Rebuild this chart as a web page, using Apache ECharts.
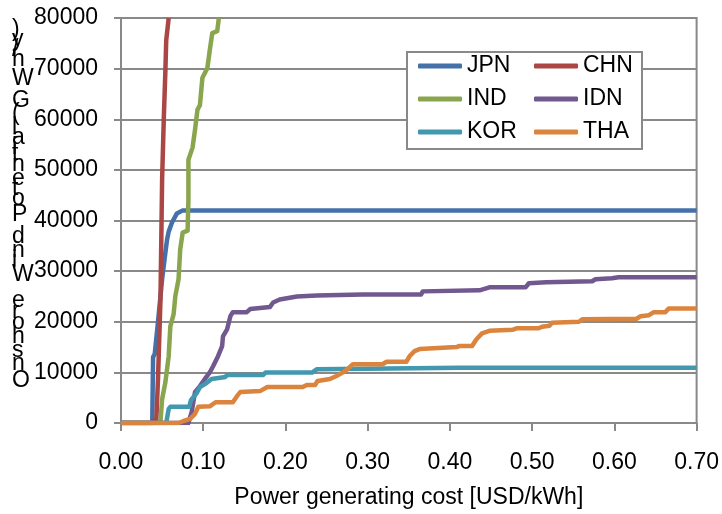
<!DOCTYPE html>
<html>
<head>
<meta charset="utf-8">
<script src="https://cdn.jsdelivr.net/npm/echarts@6/dist/echarts.min.js"></script>
<style>
html,body{margin:0;padding:0;background:#fff;}
#chart{width:722px;height:514px;}
</style>
</head>
<body>
<div id="chart"></div>
<script>
// ---- data (x: USD/kWh, y: GWh/y) ----
const seriesNames = ['JPN', 'CHN', 'IND', 'IDN', 'KOR', 'THA'];
const seriesColors = ['#4471AA', '#AA4643', '#89A54E', '#71588F', '#4198AF', '#DB843D'];

const jpn = [[0,0],[0.038,0],[0.039,13000],[0.041,13600],[0.045,20000],[0.050,28400],[0.054,33700],[0.056,36200],[0.058,37800],[0.062,39600],[0.068,41400],[0.075,42000],[0.70,42000]];
const chn = [[0,0],[0.036,0],[0.043,800],[0.045,8700],[0.048,24400],[0.049,36200],[0.050,48100],[0.052,59900],[0.054,69700],[0.055,75600],[0.058,80000]];
const ind = [[0,0],[0.045,0],[0.048,300],[0.050,4700],[0.054,8100],[0.058,13200],[0.060,19100],[0.064,21500],[0.066,25000],[0.070,28400],[0.072,34300],[0.075,37600],[0.081,38000],[0.082,44100],[0.082,52000],[0.087,54400],[0.090,57900],[0.093,61900],[0.096,62800],[0.099,68200],[0.105,70100],[0.108,73700],[0.111,77000],[0.117,77400],[0.119,80000]];
const idn = [[0,0],[0.082,0],[0.086,2200],[0.090,6100],[0.096,7300],[0.102,8700],[0.108,10000],[0.112,11200],[0.118,13200],[0.123,15200],[0.124,17100],[0.129,18500],[0.133,21100],[0.136,21900],[0.153,21900],[0.157,22500],[0.181,22900],[0.185,23800],[0.193,24400],[0.214,25000],[0.238,25200],[0.294,25400],[0.365,25400],[0.367,26000],[0.436,26200],[0.448,26800],[0.492,26800],[0.496,27600],[0.517,27800],[0.573,28000],[0.577,28400],[0.597,28600],[0.605,28800],[0.70,28800]];
const kor = [[0,0],[0.055,0],[0.058,2800],[0.060,3200],[0.083,3200],[0.085,4500],[0.092,5900],[0.096,7100],[0.104,7900],[0.110,8700],[0.127,9100],[0.129,9500],[0.173,9500],[0.176,10000],[0.233,10000],[0.238,10600],[0.355,10800],[0.411,10900],[0.70,10900]];
const tha = [[0,0],[0.070,0],[0.076,400],[0.084,800],[0.090,1800],[0.094,3200],[0.108,3300],[0.115,4100],[0.136,4100],[0.141,5300],[0.145,6100],[0.169,6300],[0.178,7100],[0.221,7100],[0.226,7500],[0.236,7500],[0.239,8300],[0.254,8700],[0.262,9300],[0.270,10000],[0.275,10600],[0.282,11600],[0.318,11600],[0.323,12100],[0.347,12100],[0.351,13200],[0.357,14200],[0.363,14600],[0.408,15000],[0.411,15200],[0.427,15200],[0.432,16500],[0.439,17700],[0.448,18200],[0.476,18400],[0.481,18700],[0.508,18700],[0.512,19000],[0.521,19200],[0.524,19800],[0.557,20000],[0.561,20500],[0.627,20600],[0.632,21100],[0.642,21300],[0.648,21900],[0.662,21900],[0.666,22600],[0.70,22600]];
const seriesData = [jpn, chn, ind, idn, kor, tha];

const xTitle = 'Power generating cost [USD/kWh]';
const yTitle = 'Onshore Wind Potential (GWh/y)';

// ---- chart ----
const FONT = "'Liberation Sans', Arial, sans-serif";
const FS = 23;
const gridColor = '#898989';
const chart = echarts.init(document.getElementById('chart'), null, {renderer: 'canvas'});

// stacked, reversed y-axis title (glyphs upright, advancing upward)
const meas = document.createElement('canvas').getContext('2d');
meas.font = FS + 'px ' + FONT;
const chars = Array.from(yTitle);
const widths = chars.map(c => meas.measureText(c).width);
const total = widths.reduce((a, b) => a + b, 0);
const bottomY = 390, topY = 25;
const k = (bottomY - topY) / total;
const titleEls = [];
let cum = 0;
chars.forEach((c, i) => {
  const w = widths[i];
  if (c !== ' ') {
    titleEls.push({
      type: 'text',
      x: 12,
      y: bottomY - k * (cum + w / 2),
      style: {text: c, font: FS + 'px ' + FONT, fill: '#000', textAlign: 'left', textVerticalAlign: 'middle'},
      silent: true
    });
  }
  cum += w;
});

const option = {
  animation: false,
  backgroundColor: '#fff',
  grid: {left: 121, right: 24, top: 18, bottom: 90, show: true, borderColor: gridColor, borderWidth: 2, backgroundColor: 'transparent'},
  legend: {
    show: true,
    left: 407, top: 52,
    width: 235,
    orient: 'horizontal',
    data: seriesNames,
    icon: 'roundRect',
    itemWidth: 44, itemHeight: 5,
    itemGap: 9,
    padding: [2, 1, 5, 11],
    borderColor: gridColor, borderWidth: 2,
    backgroundColor: '#fff',
    textStyle: {fontFamily: FONT, fontSize: FS, color: '#000', width: 58, lineHeight: 24}
  },
  xAxis: {
    type: 'value', min: 0, max: 0.7, interval: 0.1,
    name: xTitle, nameLocation: 'middle', nameGap: 63,
    nameTextStyle: {fontFamily: FONT, fontSize: FS, color: '#000'},
    axisLine: {show: true, lineStyle: {color: gridColor, width: 2}},
    axisTick: {show: true, length: 8, lineStyle: {color: gridColor, width: 2}},
    axisLabel: {margin: 28, fontFamily: FONT, fontSize: FS, color: '#000', formatter: v => v.toFixed(2)},
    splitLine: {show: false}
  },
  yAxis: {
    type: 'value', min: 0, max: 80000, interval: 10000,
    axisLine: {show: true, lineStyle: {color: gridColor, width: 2}},
    axisTick: {show: true, length: 7, lineStyle: {color: gridColor, width: 2}},
    axisLabel: {margin: 23, fontFamily: FONT, fontSize: FS, color: '#000', formatter: v => String(v)},
    splitLine: {show: true, lineStyle: {color: gridColor, width: 2}}
  },
  graphic: titleEls,
  series: seriesNames.map((n, i) => ({
    name: n, type: 'line', data: seriesData[i],
    symbol: 'none', showSymbol: false, clip: true,
    color: seriesColors[i],
    lineStyle: {width: 4.5, color: seriesColors[i], join: 'round'}
  }))
};
chart.setOption(option);
</script>
</body>
</html>
